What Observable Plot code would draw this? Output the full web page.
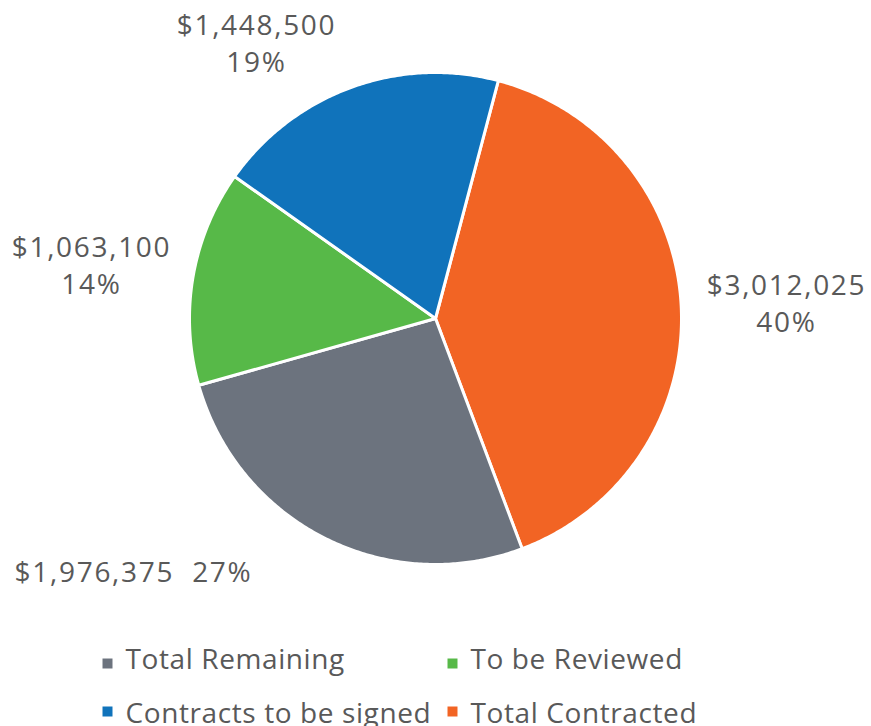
<!DOCTYPE html>
<html>
<head>
<meta charset="utf-8">
<script src="https://cdn.jsdelivr.net/npm/d3@7"></script>
<script src="https://cdn.jsdelivr.net/npm/@observablehq/plot@0.6"></script>
<style>
  html, body { margin: 0; padding: 0; background: #fff; }
  svg text { white-space: pre; }
</style>
</head>
<body>
<div id="chart"></div>
<script>
// ---- data ----
const categories = ["Total Contracted", "Total Remaining", "To be Reviewed", "Contracts to be signed"];
const amounts = [3012025, 1976375, 1063100, 1448500];
const amountLabels = ["$3,012,025", "$1,976,375", "$1,063,100", "$1,448,500"];
const percentLabels = ["40%", "27%", "14%", "19%"];
const colors = ["#f26424", "#6c737e", "#57b948", "#1073bb"];
const legendOrder = ["Total Remaining", "To be Reviewed", "Contracts to be signed", "Total Contracted"];

// ---- layout ----
const W = 871, H = 726;
const cx = 435, cy = 318, R = 246;
const startDeg = 14.8;
const labelLayout = [
  {x: 786, y: 331, sep: "\n"},
  {x: 133, y: 581, sep: "\u00a0\u00a0"},
  {x: 91,  y: 293, sep: "\n"},
  {x: 256, y: 71,  sep: "\n"}
];
const legendLayout = [
  {x: 107, y: 663}, {x: 452, y: 663},
  {x: 107, y: 711}, {x: 452, y: 711}
];
const legendBaseline = [668, 668, 722, 722];

const pie = d3.pie().sort(null).value(d => d.amount).startAngle(startDeg * Math.PI / 180).endAngle(startDeg * Math.PI / 180 + 2 * Math.PI);
const rows = categories.map((c, i) => ({cat: c, amount: amounts[i]}));
const arcs = pie(rows);

const pts = [];
arcs.forEach(a => {
  const cat = a.data.cat;
  pts.push({cat, x: cx, y: cy});
  const n = Math.max(2, Math.ceil((a.endAngle - a.startAngle) / (Math.PI / 360)));
  for (let k = 0; k <= n; k++) {
    const t = a.startAngle + (a.endAngle - a.startAngle) * k / n;
    pts.push({cat, x: cx + R * Math.sin(t), y: cy - R * Math.cos(t)});
  }
  pts.push({cat, x: cx, y: cy});
});

const labels = categories.map((c, i) => ({
  text: amountLabels[i] + labelLayout[i].sep + percentLabels[i],
  x: labelLayout[i].x, y: labelLayout[i].y
}));
const legend = legendOrder.map((c, i) => ({cat: c, x: legendLayout[i].x, y: legendLayout[i].y, by: legendBaseline[i]}));

const chart = Plot.plot({
  width: W, height: H,
  margin: 0,
  x: {domain: [0, W], range: [0, W], axis: null},
  y: {domain: [0, H], range: [0, H], axis: null},
  color: {domain: categories, range: colors},
  style: {fontFamily: "'Open Sans', sans-serif", background: "#fff"},
  marks: [
    Plot.line(pts, {x: "x", y: "y", z: "cat", fill: "cat", stroke: "white", strokeWidth: 3, strokeLinejoin: "round", curve: "linear"}),
    Plot.text(labels, {x: "x", y: "y", text: "text", fontSize: 28, lineHeight: 1.29, lineAnchor: "bottom", textAnchor: "middle", fill: "#595959"}),
    Plot.dot(legend, {x: "x", y: "y", fill: "cat", symbol: "square", r: 5.64, stroke: null}),
    Plot.text(legend, {x: "x", y: "by", text: "cat", dx: 18, textAnchor: "start", lineAnchor: "bottom", fontSize: 28, fill: "#595959"})
  ]
});
const textGroups = chart.querySelectorAll('g[aria-label="text"]');
if (textGroups[0]) textGroups[0].style.letterSpacing = "1.7px";
if (textGroups[1]) textGroups[1].style.letterSpacing = "0.6px";
document.getElementById("chart").appendChild(chart);
</script>
</body>
</html>
